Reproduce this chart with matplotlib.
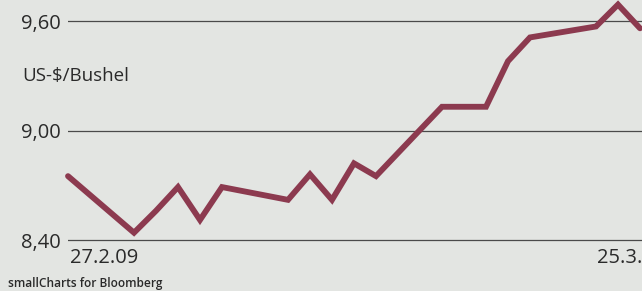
import matplotlib
matplotlib.use("Agg")
import matplotlib.pyplot as plt
import pandas as pd

# Weizen, US-$/Bushel, 27.2.09 - 25.3.09
dates = ["2009-02-27", "2009-03-02", "2009-03-03", "2009-03-04", "2009-03-05",
         "2009-03-06", "2009-03-09", "2009-03-10", "2009-03-11", "2009-03-12",
         "2009-03-13", "2009-03-16", "2009-03-17", "2009-03-18", "2009-03-19",
         "2009-03-20", "2009-03-23", "2009-03-24", "2009-03-25"]
prices = [8.75, 8.44, 8.56, 8.69, 8.51, 8.69, 8.62, 8.76, 8.62, 8.82,
          8.75, 9.13, 9.13, 9.13, 9.38, 9.51, 9.57, 9.69, 9.56]
ytick_values = [8.40, 9.00, 9.60]
ytick_labels = ["8,40", "9,00", "9,60"]
x_labels = ["27.2.09", "25.3."]

x = pd.to_datetime(dates)

bg = "#e3e5e2"
ink = "#2a2a2a"
plt.rcParams["font.family"] = ["Open Sans", "DejaVu Sans"]

px_per_unit = 219 / 1.2  # vertical pixels per dollar

fig = plt.figure(figsize=(6.42, 2.91), dpi=100, facecolor=bg)
# axes from y=246 px (bottom) to the top edge
ax = fig.add_axes([68 / 642, 45 / 291, 574 / 642, 246 / 291])
ax.set_facecolor(bg)

ax.plot(x, prices, color="#8c3a4f", linewidth=4.2, solid_joinstyle="miter",
        solid_capstyle="round", clip_on=False, zorder=3)

# x limits: one day = 22 px
start = x[0]
ax.set_xlim(start, start + pd.Timedelta(days=574 / 22))
ax.set_ylim(8.40 - 6 / px_per_unit, 8.40 + 240 / px_per_unit)

ax.set_yticks(ytick_values)
ax.set_yticklabels(ytick_labels, fontsize=14.5, color=ink)
ax.tick_params(axis="y", length=0, pad=5)
ax.set_xticks([])
for s in ax.spines.values():
    s.set_visible(False)
ax.grid(axis="y", color="#4a4a4a", linewidth=0.9)
ax.set_axisbelow(True)

fig.text(22 / 642, 1 - 76 / 291, "US-$/Bushel", fontsize=13.5, color=ink,
         va="center", ha="left")
fig.text(70 / 642, 1 - 258 / 291, x_labels[0], fontsize=14.5, color=ink,
         va="center", ha="left")
fig.text(642 / 642, 1 - 258 / 291, x_labels[1], fontsize=14.5, color=ink,
         va="center", ha="right")
fig.text(8 / 642, 1 - 284 / 291, "smallCharts for Bloomberg", fontsize=8.6,
         color=ink, va="center", ha="left", fontweight="semibold")

fig.savefig("out.png", dpi=100, facecolor=bg)
